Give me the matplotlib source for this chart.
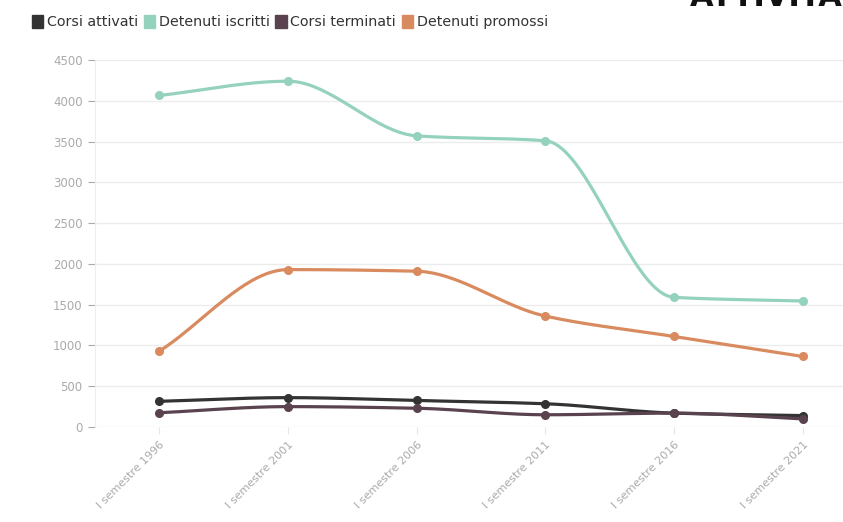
import numpy as np
import matplotlib.pyplot as plt
from matplotlib.patches import Patch

# Semestri di rilevazione e serie (numero di corsi e detenuti)
periodi = ["I semestre 1996", "I semestre 2001", "I semestre 2006",
           "I semestre 2011", "I semestre 2016", "I semestre 2021"]
corsi_attivati = [315, 360, 325, 285, 170, 140]
detenuti_iscritti = [4065, 4240, 3570, 3510, 1590, 1545]
corsi_terminati = [175, 250, 230, 150, 170, 100]
detenuti_promossi = [930, 1930, 1910, 1360, 1110, 865]

serie = [
    ("Corsi attivati", corsi_attivati, "#333333"),
    ("Detenuti iscritti", detenuti_iscritti, "#95d2bd"),
    ("Corsi terminati", corsi_terminati, "#5a434e"),
    ("Detenuti promossi", detenuti_promossi, "#d98a5e"),
]


def monotone(x, y, n=40):
    """Curva cubica monotona (stile curveMonotoneX) tra i punti."""
    x = np.asarray(x, float); y = np.asarray(y, float)
    h = np.diff(x); d = np.diff(y) / h
    m = np.zeros_like(y)
    for i in range(1, len(y) - 1):
        if d[i - 1] * d[i] > 0:
            w1, w2 = 2 * h[i] + h[i - 1], h[i] + 2 * h[i - 1]
            m[i] = (w1 + w2) / (w1 / d[i - 1] + w2 / d[i])
    m[0], m[-1] = d[0], d[-1]
    xs, ys = [], []
    for i in range(len(h)):
        t = np.linspace(0, 1, n)
        h00 = 2 * t**3 - 3 * t**2 + 1; h10 = t**3 - 2 * t**2 + t
        h01 = -2 * t**3 + 3 * t**2; h11 = t**3 - t**2
        xs.append(x[i] + t * h[i])
        ys.append(h00 * y[i] + h10 * h[i] * m[i] + h01 * y[i + 1] + h11 * h[i] * m[i + 1])
    return np.concatenate(xs), np.concatenate(ys)


fig = plt.figure(figsize=(8.43, 5.22), dpi=100)
ax = fig.add_axes([95 / 843, 95 / 522, 772 / 843, 367 / 522])

xi = np.arange(len(periodi))
for nome, vals, col in serie:
    cx, cy = monotone(xi, vals)
    ax.plot(cx, cy, color=col, lw=2.3, solid_capstyle="round", zorder=3)
    ax.plot(xi, vals, "o", color=col, ms=5.5, zorder=4)

ax.set_xlim(-0.5, 5.5)
ax.set_ylim(0, 4500)
ax.set_yticks(np.arange(0, 4501, 500))
ax.set_xticks(xi)
ax.set_xticklabels(periodi, rotation=45, ha="right", rotation_mode="anchor")
ax.grid(axis="y", color="#ececec", lw=1)
ax.set_axisbelow(True)
for s in ["top", "right", "bottom"]:
    ax.spines[s].set_visible(False)
ax.spines["left"].set_color("#eeeeee")
ax.tick_params(axis="y", colors="#aaaaaa", labelsize=8.5, length=5, width=0.8, pad=4)
ax.tick_params(axis="x", colors="#e6e6e6", labelcolor="#aaaaaa", labelsize=8, length=5, pad=4)

handles = [Patch(facecolor=c, edgecolor=c) for _, _, c in serie]
fig.legend(handles, [n for n, _, _ in serie], loc="upper left",
           bbox_to_anchor=(26 / 843, 1 - 9 / 522), ncol=4, frameon=False,
           fontsize=10.3, handlelength=0.8, handleheight=1.1, handletextpad=0.25,
           columnspacing=0.4, borderaxespad=0, labelcolor="#333333")

# titolo del pannello, in gran parte fuori dal bordo superiore
fig.text(690 / 843, 1 - 6 / 522, "ATTIVITÀ SCOLASTICHE", fontsize=22,
         fontweight="bold", color="#111111", va="baseline", ha="left")

fig.savefig("out.png", dpi=100, facecolor="white")
